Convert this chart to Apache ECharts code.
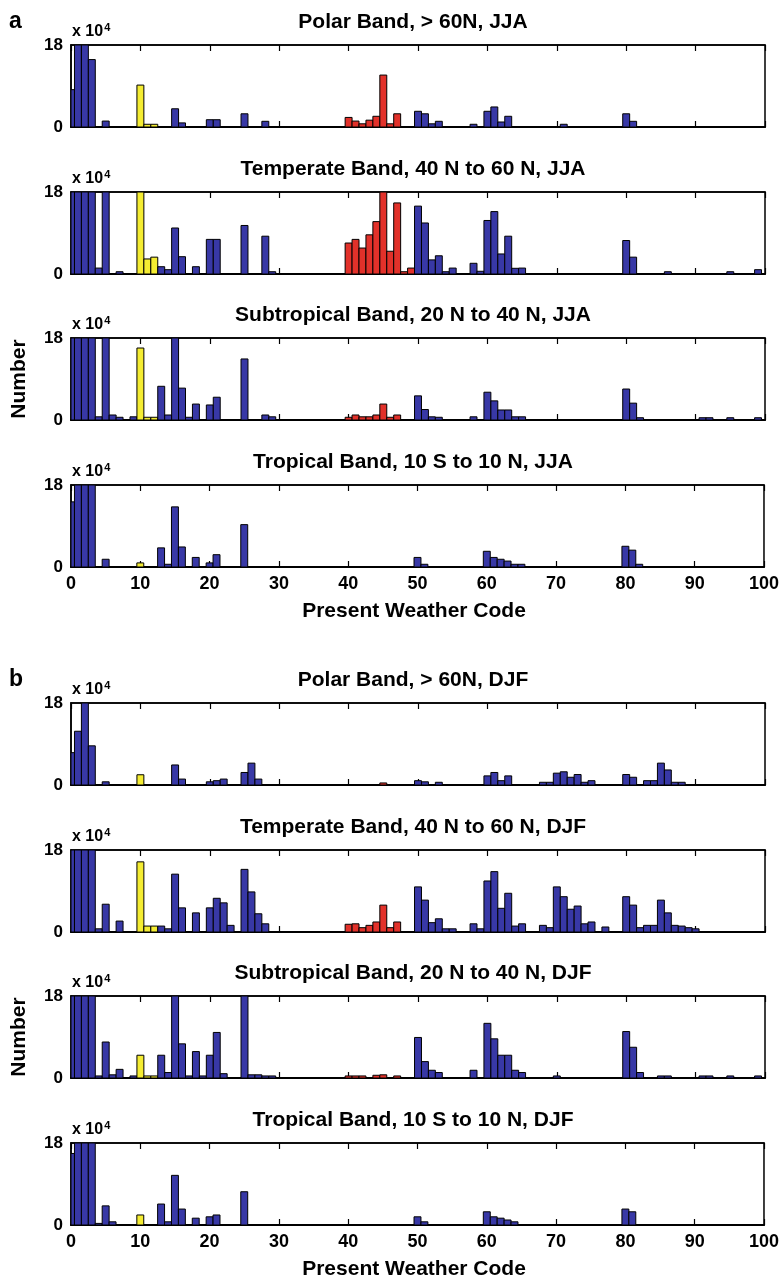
<!DOCTYPE html>
<html><head><meta charset="utf-8">
<script src="https://cdn.jsdelivr.net/npm/echarts@6/dist/echarts.min.js"></script>
<style>html,body{margin:0;padding:0;background:#fff}#c{width:782px;height:1280px}</style>
</head><body><div id="c"></div>
<script>
// Present weather codes 0..99 (x positions of bars)
const codes = Array.from({length: 100}, (_, i) => i);
const xTicks = [0,10,20,30,40,50,60,70,80,90,100];
const yTicks = [0, 18];

const titles = [
  'Polar Band, > 60N, JJA',
  'Temperate Band, 40 N to 60 N, JJA',
  'Subtropical Band, 20 N to 40 N, JJA',
  'Tropical Band, 10 S to 10 N, JJA',
  'Polar Band, > 60N, DJF',
  'Temperate Band, 40 N to 60 N, DJF',
  'Subtropical Band, 20 N to 40 N, DJF',
  'Tropical Band, 10 S to 10 N, DJF'
];

// counts in units of 10^4 (values above 18 are off-scale)
const polarJJA = [
  8.2,25,25,14.8,0,1.3,0,0,0,0,
  9.2,0.6,0.6,0,0,4.0,0.9,0,0,0,
  1.6,1.6,0,0,0,2.9,0,0,1.25,0,
  0,0,0,0,0,0,0,0,0,0,
  2.1,1.3,0.7,1.5,2.35,11.4,0.7,2.9,0,0,
  3.45,2.9,0.7,1.25,0,0,0,0,0.6,0,
  3.45,4.4,1.1,2.35,0,0,0,0,0,0,
  0,0.6,0,0,0,0,0,0,0,0,
  2.9,1.25,0,0,0,0,0,0,0,0,
  0,0,0,0,0,0,0,0,0,0];
const temperateJJA = [
  25,25,25,25,1.3,25,0,0.5,0,0,
  25,3.3,3.7,1.6,0.95,10.1,3.8,0,1.6,0,
  7.6,7.6,0,0,0,10.65,0,0,8.3,0.5,
  0,0,0,0,0,0,0,0,0,0,
  6.8,7.6,5.7,8.6,11.5,25,5.0,15.6,0.5,1.3,
  14.9,11.2,3.1,4.0,0.5,1.3,0,0,2.35,0.6,
  11.75,13.7,4.4,8.3,1.25,1.3,0,0,0,0,
  0,0,0,0,0,0,0,0,0,0,
  7.35,3.7,0,0,0,0,0.5,0,0,0,
  0,0,0,0,0,0.5,0,0,0,0.95];
const subtropicalJJA = [
  25,25,25,25,0.7,25,1.1,0.6,0,0.7,
  15.8,0.6,0.6,7.4,1.1,25,7.0,0.6,3.5,0,
  3.3,5.0,0,0,0,13.4,0,0,1.1,0.7,
  0,0,0,0,0,0,0,0,0,0,
  0.6,1.1,0.7,0.7,1.1,3.5,0.6,1.1,0,0,
  5.3,2.3,0.7,0.6,0,0,0,0,0.7,0,
  6.1,4.2,2.2,2.2,0.7,0.7,0,0,0,0,
  0,0,0,0,0,0,0,0,0,0,
  6.8,3.7,0.5,0,0,0,0,0,0,0,
  0,0.5,0.5,0,0,0.5,0,0,0,0.5];
const tropicalJJA = [
  14.3,25,25,25,0,1.7,0,0,0,0,
  0.9,0,0,4.2,0.6,13.2,4.4,0,2.1,0,
  0.9,2.7,0,0,0,9.3,0,0,0,0,
  0,0,0,0,0,0,0,0,0,0,
  0,0,0,0,0,0,0,0,0,0,
  2.1,0.6,0,0,0,0,0,0,0,0,
  3.45,2.1,1.7,1.3,0.6,0.6,0,0,0,0,
  0,0,0,0,0,0,0,0,0,0,
  4.55,3.7,0.6,0,0,0,0,0,0,0,
  0,0,0,0,0,0,0,0,0,0];
const polarDJF = [
  7.1,11.8,25,8.6,0,0.7,0,0,0,0,
  2.25,0,0,0,0,4.4,1.3,0,0,0,
  0.7,0.95,1.3,0,0,2.75,4.8,1.3,0,0,
  0,0,0,0,0,0,0,0,0,0,
  0,0,0,0,0,0.45,0,0,0,0,
  0.95,0.7,0,0.6,0,0,0,0,0,0,
  2.0,2.75,0.95,2.0,0,0,0,0,0.6,0.6,
  2.6,2.9,1.7,2.3,0.6,0.95,0,0,0,0,
  2.3,1.7,0,0.95,0.95,4.8,3.3,0.6,0.6,0,
  0,0,0,0,0,0,0,0,0,0];
const temperateDJF = [
  25,25,25,25,0.7,6.1,0,2.4,0,0,
  15.4,1.3,1.3,1.3,0.7,12.7,5.3,0,4.2,0,
  5.3,7.4,6.4,1.46,0,13.75,8.8,4.0,1.8,0,
  0,0,0,0,0,0,0,0,0,0,
  1.7,1.8,0.95,1.46,2.2,5.9,0.95,2.2,0,0,
  9.9,7.0,2.05,2.9,0.7,0.7,0,0,1.8,0.7,
  11.2,13.25,5.2,8.5,1.3,1.8,0,0,1.46,0.95,
  9.9,7.75,5.0,5.7,1.8,2.2,0,1.1,0,0,
  7.75,5.9,0.95,1.46,1.46,7.0,4.2,1.46,1.3,0.95,
  0.7,0,0,0,0,0,0,0,0,0];
const subtropicalDJF = [
  25,25,25,25,0.45,7.9,0.7,1.9,0,0.45,
  5.0,0.45,0.45,5.0,1.2,25,7.5,0.45,5.8,0.45,
  5.0,10.0,0.95,0,0,25,0.7,0.7,0.45,0.45,
  0,0,0,0,0,0,0,0,0,0,
  0.45,0.45,0.45,0,0.6,0.7,0,0.45,0,0,
  8.9,3.6,1.7,1.2,0,0,0,0,1.7,0,
  12.0,8.6,5.0,5.0,1.7,1.2,0,0,0,0,
  0.45,0,0,0,0,0,0,0,0,0,
  10.2,6.75,1.2,0,0,0.45,0.45,0,0,0,
  0,0.45,0.45,0,0,0.45,0,0,0,0.45];
const tropicalDJF = [
  15.7,25,25,25,0.35,4.2,0.7,0,0,0,
  2.2,0,0,4.6,0.7,10.9,3.5,0,1.5,0,
  1.8,2.2,0,0,0,7.3,0,0,0,0,
  0,0,0,0,0,0,0,0,0,0,
  0,0,0,0,0,0,0,0,0,0,
  1.8,0.7,0,0,0,0,0,0,0,0,
  2.9,1.8,1.5,1.1,0.7,0,0,0,0,0,
  0,0,0,0,0,0,0,0,0,0,
  3.5,2.9,0,0,0,0,0,0,0,0,
  0,0,0,0,0,0,0,0,0,0];

const panels = [polarJJA, temperateJJA, subtropicalJJA, tropicalJJA,
                polarDJF, temperateDJF, subtropicalDJF, tropicalDJF];

const BLUE = '#3838a6', YELLOW = '#f4ec32', RED = '#e2312a';
function barColor(code) {
  if (code >= 10 && code <= 12) return YELLOW;
  if (code >= 40 && code <= 49) return RED;
  return BLUE;
}

const tops = [45, 192, 338, 485, 703, 850, 996, 1143];
const LEFT = 71, WIDTH = 694, HEIGHT = 82;
const FONT = '"Liberation Sans", Arial, Helvetica, sans-serif';

const grids = [], xAxes = [], yAxes = [], series = [], graphics = [];

tops.forEach((top, i) => {
  const bottomPanel = (i === 3 || i === 7);
  grids.push({left: LEFT, top: top, width: WIDTH, height: HEIGHT,
              show: true, borderColor: '#000', borderWidth: 1.5, backgroundColor: '#fff'});
  xAxes.push({
    type: 'value', gridIndex: i, min: xTicks[0], max: xTicks[xTicks.length-1], interval: 10,
    position: 'bottom',
    axisLine: {show: true, onZero: false, lineStyle: {color: '#000', width: 2.2}},
    axisTick: {show: true, inside: true, length: 6, lineStyle: {color: '#000', width: 1.2}},
    splitLine: {show: false},
    axisLabel: {show: bottomPanel, color: '#000', fontFamily: FONT, fontWeight: 'bold',
                fontSize: 18, margin: 8}
  });
  xAxes.push({
    type: 'value', gridIndex: i, min: 0, max: 100, interval: 10, position: 'top',
    axisLine: {show: true, onZero: false, lineStyle: {color: '#000', width: 1.5}},
    axisTick: {show: true, inside: true, length: 6, lineStyle: {color: '#000', width: 1.2}},
    splitLine: {show: false}, axisLabel: {show: false}
  });
  yAxes.push({
    type: 'value', gridIndex: i, min: yTicks[0], max: yTicks[1], interval: 18,
    axisLine: {show: true, lineStyle: {color: '#000', width: 1.5}},
    axisTick: {show: false}, splitLine: {show: false},
    axisLabel: {color: '#000', fontFamily: FONT, fontWeight: 'bold', fontSize: 17, margin: 8}
  });
  series.push({
    type: 'custom', xAxisIndex: 2*i, yAxisIndex: i, clip: true,
    data: codes.map(c => [c, panels[i][c]]),
    renderItem: function (params, api) {
      const code = api.value(0), v = api.value(1);
      if (!v) return null;
      const p0 = api.coord([code - 0.5, 0]);
      const p1 = api.coord([code + 0.5, v]);
      const cs = params.coordSys;
      const shape = echarts.graphic.clipRectByRect(
        {x: p0[0], y: p1[1], width: p1[0] - p0[0], height: p0[1] - p1[1]},
        {x: cs.x, y: cs.y, width: cs.width, height: cs.height});
      if (!shape) return null;
      return {type: 'rect', shape: shape,
              style: {fill: barColor(code), stroke: '#000', lineWidth: 1}};
    }
  });
  // panel title
  graphics.push({type: 'text', x: LEFT + WIDTH/2 - 5, y: top - 23,
    style: {text: titles[i], fill: '#000', font: 'bold 21px ' + FONT,
            textAlign: 'center', textVerticalAlign: 'middle'}});
  // multiplier
  graphics.push({type: 'text', x: LEFT + 1, y: top - 13,
    style: {text: '{b|x 10}{s|4}', fill: '#000', textVerticalAlign: 'middle',
            rich: {b: {font: 'bold 16px ' + FONT, fill: '#000'},
                   s: {font: 'bold 11px ' + FONT, fill: '#000', padding: [0,0,9,1]}}}});
});

// panel letters
graphics.push({type: 'text', x: 9, y: 22, style: {text: 'a', fill: '#000', font: 'bold 23px ' + FONT, textVerticalAlign: 'middle'}});
graphics.push({type: 'text', x: 9, y: 680, style: {text: 'b', fill: '#000', font: 'bold 23px ' + FONT, textVerticalAlign: 'middle'}});
// y labels
[tops[2], tops[6]].forEach(t => {
  graphics.push({type: 'text', x: 19, y: t + HEIGHT/2, rotation: Math.PI/2,
    style: {text: 'Number', fill: '#000', font: 'bold 21px ' + FONT, textAlign: 'center', textVerticalAlign: 'middle'}});
});
// x labels
[tops[3], tops[7]].forEach(t => {
  graphics.push({type: 'text', x: LEFT + WIDTH/2 - 4, y: t + HEIGHT + 44,
    style: {text: 'Present Weather Code', fill: '#000', font: 'bold 21px ' + FONT, textAlign: 'center', textVerticalAlign: 'middle'}});
});

const chart = echarts.init(document.getElementById('c'), null, {renderer: 'canvas'});
chart.setOption({
  animation: false, backgroundColor: '#fff',
  grid: grids, xAxis: xAxes, yAxis: yAxes, series: series, graphic: graphics
});
</script></body></html>
